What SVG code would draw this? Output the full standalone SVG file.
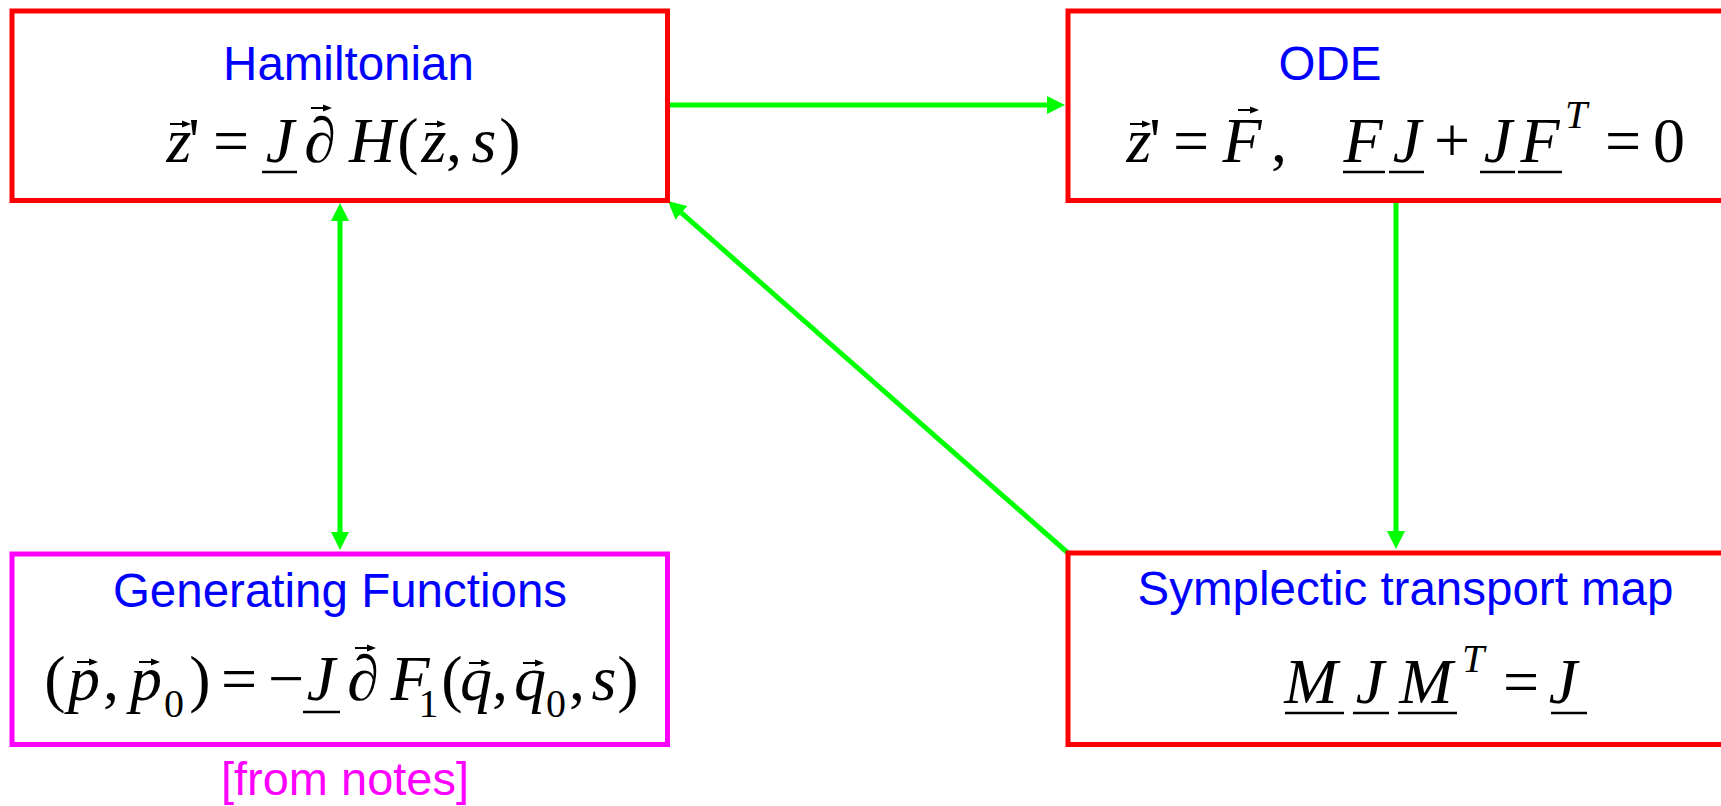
<svg xmlns="http://www.w3.org/2000/svg" xmlns:xlink="http://www.w3.org/1999/xlink" width="1721" height="806" viewBox="0 0 1721 806">
<style>
.bg{fill:#FFFFFF}
.box{fill:none;stroke-width:5}
.red{stroke:#FF0000}
.mag{stroke:#FF00FF}
.title{font-family:"Liberation Sans",Arial,sans-serif;font-size:47.5px;fill:#0000FF;text-anchor:middle}
.note{font-family:"Liberation Sans",Arial,sans-serif;font-size:47px;fill:#FF00FF;text-anchor:middle}
.m{font-family:"Liberation Serif","Times New Roman",serif;font-size:64px;fill:#000000;text-anchor:middle}
.i{font-style:italic}
.sm{font-size:40px}
.up{font-style:normal}
.ul{stroke:#000000;stroke-width:2.5}
.vl{stroke:#000000;stroke-width:2}
.vh{fill:#000000}
.conn{stroke:#00FF00;stroke-width:5;fill:none}
.head{fill:#00FF00}
</style>
<defs>
<marker id="ah" markerUnits="userSpaceOnUse" markerWidth="18" markerHeight="18" refX="0" refY="9" orient="auto-start-reverse" viewBox="0 0 18 18">
<path class="head" d="M0,0 L18,9 L0,18 Z"/>
</marker>
<g id="vec">
<line class="vl" x1="-10" y1="0" x2="4" y2="0"/>
<path class="vh" d="M2,-3.5 L11,0 L2,3.5 Z"/>
</g>
</defs>
<rect class="bg" x="0" y="0" width="1721" height="806"/>

<g id="connectors">
<line class="conn" x1="670" y1="105" x2="1047" y2="105" marker-end="url(#ah)"/>
<line class="conn" x1="340" y1="221" x2="340" y2="532" marker-start="url(#ah)" marker-end="url(#ah)"/>
<line class="conn" x1="1396" y1="203" x2="1396" y2="531" marker-end="url(#ah)"/>
<line class="conn" x1="1068" y1="553" x2="681.5" y2="212.9" marker-end="url(#ah)"/>
</g>

<g id="node-hamiltonian">
<rect class="box red" x="12" y="11" width="655.5" height="189.5"/>
<text class="title" x="348.5" y="80">Hamiltonian</text>
<text class="m i" x="179" y="162">z</text>
<use xlink:href="#vec" href="#vec" x="180" y="124"/>
<text class="m" x="194" y="162">'</text>
<text class="m" x="231" y="162">=</text>
<text class="m i" x="280" y="162">J</text>
<line class="ul" x1="262" y1="172" x2="297" y2="172"/>
<text class="m" x="320" y="162">∂</text>
<use xlink:href="#vec" href="#vec" x="321" y="108"/>
<text class="m i" x="372" y="162">H</text>
<text class="m" x="408" y="162">(</text>
<text class="m i" x="434" y="162">z</text>
<use xlink:href="#vec" href="#vec" x="435" y="124"/>
<text class="m" x="454" y="162">,</text>
<text class="m i" x="484" y="162">s</text>
<text class="m" x="510" y="162">)</text>
</g>

<g id="node-ode">
<rect class="box red" x="1068" y="11" width="700" height="189.5"/>
<text class="title" x="1330" y="80">ODE</text>
<text class="m i" x="1139" y="162">z</text>
<use xlink:href="#vec" href="#vec" x="1140" y="124"/>
<text class="m" x="1155" y="162">'</text>
<text class="m" x="1191" y="162">=</text>
<text class="m i" x="1242" y="162">F</text>
<use xlink:href="#vec" href="#vec" x="1248" y="110"/>
<text class="m" x="1279" y="162">,</text>
<text class="m i" x="1363" y="162">F</text>
<line class="ul" x1="1343" y1="172" x2="1385" y2="172"/>
<text class="m i" x="1407" y="162">J</text>
<line class="ul" x1="1389" y1="172" x2="1424" y2="172"/>
<text class="m" x="1452" y="162">+</text>
<text class="m i" x="1498" y="162">J</text>
<line class="ul" x1="1480" y1="172" x2="1515" y2="172"/>
<text class="m i" x="1540" y="162">F</text>
<line class="ul" x1="1518" y1="172" x2="1562" y2="172"/>
<text class="m i sm" x="1576" y="128">T</text>
<text class="m" x="1623" y="162">=</text>
<text class="m" x="1669" y="162">0</text>
</g>

<g id="node-genfunc">
<rect class="box mag" x="12" y="554" width="655.5" height="190.5"/>
<text class="title" x="340" y="607">Generating Functions</text>
<text class="m" x="55" y="700">(</text>
<text class="m i" x="84" y="700">p</text>
<use xlink:href="#vec" href="#vec" x="87" y="662"/>
<text class="m" x="111" y="700">,</text>
<text class="m i" x="146" y="700">p</text>
<use xlink:href="#vec" href="#vec" x="149" y="662"/>
<text class="m sm" x="174" y="717">0</text>
<text class="m" x="200" y="700">)</text>
<text class="m" x="239" y="700">=</text>
<text class="m" x="286" y="700">−</text>
<text class="m i" x="321" y="700">J</text>
<line class="ul" x1="303" y1="712" x2="340" y2="712"/>
<text class="m" x="363" y="700">∂</text>
<use xlink:href="#vec" href="#vec" x="365" y="648"/>
<text class="m i" x="390.5" y="700" style="text-anchor:start">F<tspan class="up sm" dx="-11" dy="17">1</tspan></text>
<text class="m" x="452" y="700">(</text>
<text class="m i" x="476" y="700">q</text>
<use xlink:href="#vec" href="#vec" x="479" y="663"/>
<text class="m" x="500" y="700">,</text>
<text class="m i" x="530" y="700">q</text>
<use xlink:href="#vec" href="#vec" x="533" y="663"/>
<text class="m sm" x="556" y="717">0</text>
<text class="m" x="577" y="700">,</text>
<text class="m i" x="604" y="700">s</text>
<text class="m" x="628" y="700">)</text>
</g>

<g id="node-symplectic">
<rect class="box red" x="1068" y="553" width="700" height="191.5"/>
<text class="title" x="1405.5" y="605">Symplectic transport map</text>
<text class="m i" x="1311" y="703">M</text>
<line class="ul" x1="1285" y1="713" x2="1344" y2="713"/>
<text class="m i" x="1370" y="703">J</text>
<line class="ul" x1="1353" y1="713" x2="1389" y2="713"/>
<text class="m i" x="1426" y="703">M</text>
<line class="ul" x1="1398" y1="713" x2="1457" y2="713"/>
<text class="m i sm" x="1473" y="672">T</text>
<text class="m" x="1521" y="703">=</text>
<text class="m i" x="1563" y="703">J</text>
<line class="ul" x1="1551" y1="713" x2="1587" y2="713"/>
</g>

<g id="note-label">
<text class="note" x="345" y="795">[from notes]</text>
</g>
</svg>
